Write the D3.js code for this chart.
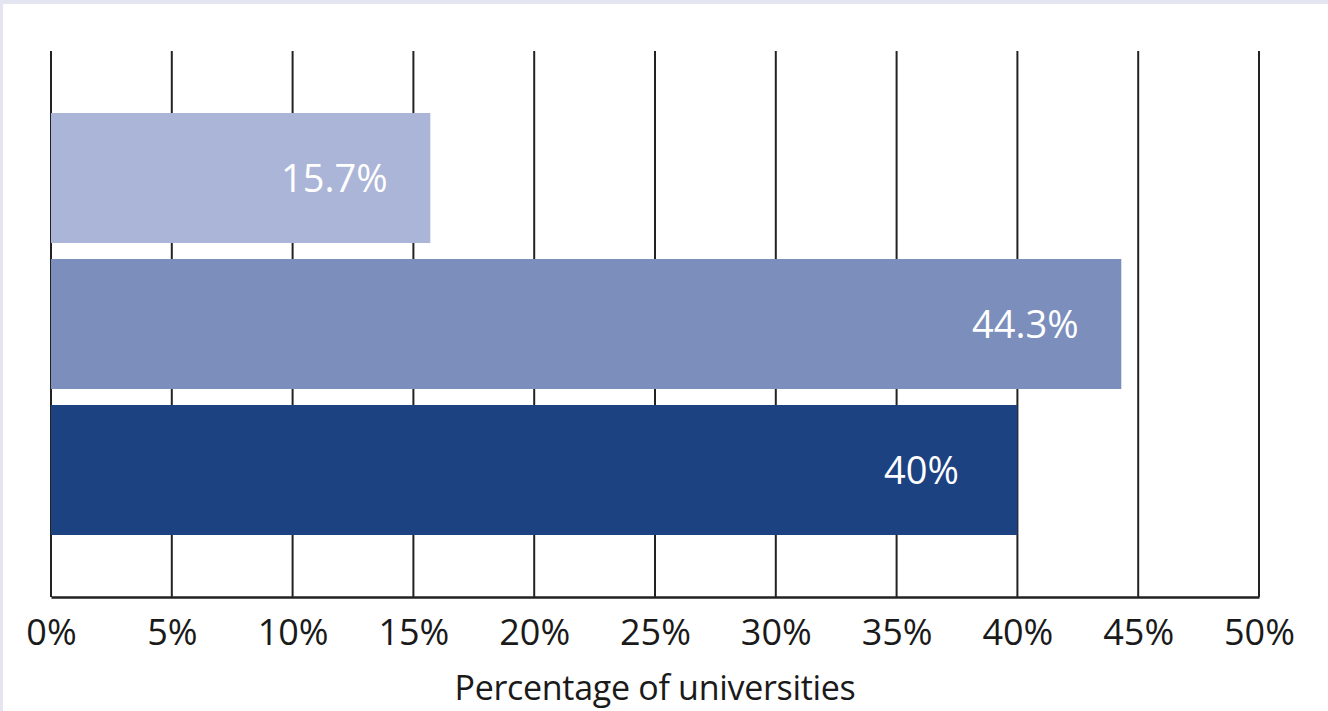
<!DOCTYPE html>
<html>
<head>
<meta charset="utf-8">
<script src="https://cdn.jsdelivr.net/npm/d3@7"></script>
<style>
  html, body { margin: 0; padding: 0; background: #ffffff; }
  svg { display: block; }
</style>
</head>
<body>
<svg id="chart" width="1328" height="711"></svg>
<script>
// Share of universities in each group
const categories = ["Group A", "Group B", "Group C"];
const values = [15.7, 44.3, 40];
const valueLabels = ["15.7%", "44.3%", "40%"];
const barColors = ["#abb5d8", "#7b8ebc", "#1c4281"];
const tickValues = [0, 5, 10, 15, 20, 25, 30, 35, 40, 45, 50];
const axisTitle = "Percentage of universities";

const W = 1328, H = 711;
const svg = d3.select("#chart");
const FONT = "'Open Sans', 'Noto Sans', sans-serif";

// frame bands
svg.append("rect").attr("x", 0).attr("y", 0).attr("width", W).attr("height", H).attr("fill", "#ffffff");
svg.append("rect").attr("x", 0).attr("y", 0).attr("width", W).attr("height", 4).attr("fill", "#e4e5f1");
svg.append("rect").attr("x", 0).attr("y", 0).attr("width", 3).attr("height", H).attr("fill", "#e4e5f1");

const plotLeft = 51, plotRight = 1259, plotTop = 51, plotBottom = 597;

const x = d3.scaleLinear().domain([0, 50]).range([plotLeft, plotRight]);
const y = d3.scaleBand().domain(categories).range([plotTop, plotBottom])
  .paddingInner(16 / 146).paddingOuter(62 / 146);

// vertical gridlines
svg.append("g").selectAll("line").data(tickValues).join("line")
  .attr("x1", d => x(d)).attr("x2", d => x(d))
  .attr("y1", plotTop).attr("y2", plotBottom)
  .attr("stroke", "#222").attr("stroke-width", 2);

// bars
svg.append("g").selectAll("rect").data(values).join("rect")
  .attr("x", x(0))
  .attr("y", (d, i) => y(categories[i]))
  .attr("width", d => x(d) - x(0))
  .attr("height", y.bandwidth())
  .attr("fill", (d, i) => barColors[i]);

// value labels inside bars, centred a little left of the bar end
svg.append("g").selectAll("text").data(values).join("text")
  .attr("x", d => x(d) - 96)
  .attr("y", (d, i) => y(categories[i]) + y.bandwidth() / 2)
  .attr("dy", "0.36em")
  .attr("text-anchor", "middle")
  .attr("fill", "#ffffff")
  .style("font-family", FONT)
  .style("font-size", "38px")
  .text((d, i) => valueLabels[i]);

// bottom axis
const axis = d3.axisBottom(x).tickValues(tickValues).tickSize(0).tickPadding(22)
  .tickFormat(d => d + "%");
const gAxis = svg.append("g").attr("transform", `translate(0,${plotBottom})`).call(axis);
gAxis.select(".domain").attr("stroke", "#222").attr("stroke-width", 2.5);
gAxis.selectAll("text")
  .attr("fill", "#1a1a1a")
  .style("font-family", FONT)
  .style("font-size", "36px");

// axis title
svg.append("text")
  .attr("x", (plotLeft + plotRight) / 2)
  .attr("y", 700)
  .attr("text-anchor", "middle")
  .attr("fill", "#1a1a1a")
  .style("font-family", FONT)
  .style("font-size", "34px")
  .style("letter-spacing", "-0.3px")
  .text(axisTitle);
</script>
</body>
</html>
